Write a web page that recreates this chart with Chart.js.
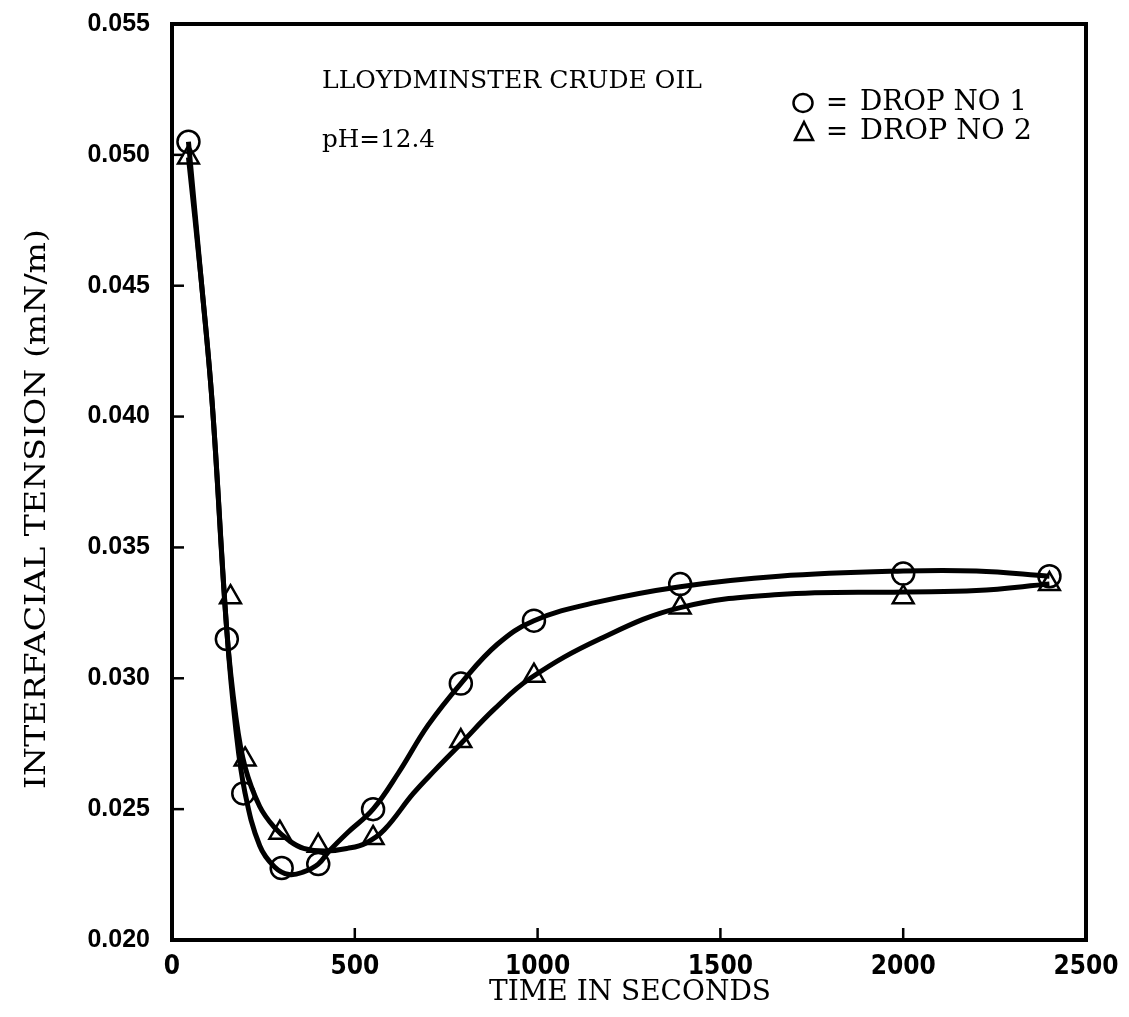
<!DOCTYPE html>
<html>
<head>
<meta charset="utf-8">
<script src="https://cdn.jsdelivr.net/npm/chart.js@4.4.1/dist/chart.umd.min.js"></script>
<style>
  html, body { margin: 0; padding: 0; background: #fff; }
  #wrap { width: 1129px; height: 1017px; }
</style>
</head>
<body>
<div id="wrap"><canvas id="c" width="1129" height="1017"></canvas></div>
<script>
// Measured drops (interfacial tension vs. time)
const timeDrop1    = [45, 150, 195, 300, 400, 550, 790, 990, 1390, 2000, 2400];
const tensionDrop1 = [0.0505, 0.0315, 0.0256, 0.02275, 0.0229, 0.0250, 0.0298, 0.0322, 0.0336, 0.0340, 0.0339];
const timeDrop2    = [45, 160, 200, 295, 400, 550, 790, 990, 1390, 2000, 2400];
const tensionDrop2 = [0.0499, 0.0331, 0.0269, 0.0241, 0.0236, 0.0239, 0.0276, 0.0301, 0.0327, 0.0331, 0.0336];

// Smoothed fit curves through each drop
const fitTime1    = [45, 80, 110, 150, 175, 200, 240, 280, 320, 360, 400, 430, 480, 550, 620, 700, 790, 890, 990, 1160, 1390, 1660, 2000, 2200, 2400];
const fitTension1 = [0.0505, 0.0452, 0.0405, 0.0318, 0.0280, 0.0256, 0.0236, 0.0228, 0.0225, 0.0226, 0.0229, 0.0234, 0.0241, 0.0250, 0.0264, 0.0282, 0.0298, 0.0313, 0.0322, 0.0329, 0.0335, 0.0339, 0.0341, 0.0341, 0.0339];
const fitTime2    = [45, 80, 110, 150, 175, 200, 240, 280, 320, 360, 420, 480, 530, 580, 660, 720, 790, 880, 980, 1170, 1390, 1660, 2000, 2200, 2400];
const fitTension2 = [0.0499, 0.0452, 0.0405, 0.0318, 0.0285, 0.0266, 0.0251, 0.0243, 0.0238, 0.0235, 0.0234, 0.0235, 0.0237, 0.0242, 0.0256, 0.0265, 0.0275, 0.0288, 0.0300, 0.0315, 0.0327, 0.0332, 0.0333, 0.03335, 0.0336];

// Axis ticks
const xTicks = [0, 500, 1000, 1500, 2000, 2500];
const yTicks = [0.020, 0.025, 0.030, 0.035, 0.040, 0.045, 0.050, 0.055];

const pairs = (xs, ys) => xs.map((x, i) => ({ x: x, y: ys[i] }));

const SERIF = '"DejaVu Serif", "Liberation Serif", serif';

// Draw text squeezed/stretched to a given width
function stretchText(ctx, text, x, y, size, width, align) {
  ctx.save();
  ctx.font = size + 'px ' + SERIF;
  ctx.textBaseline = 'middle';
  ctx.textAlign = 'left';
  const w = ctx.measureText(text).width;
  const sx = width / w;
  const left = align === 'center' ? x - width / 2 : x;
  ctx.translate(left, y);
  ctx.scale(sx, 1);
  ctx.fillStyle = '#000';
  ctx.fillText(text, 0, 0);
  ctx.restore();
}

const framePlugin = {
  id: 'frame',
  afterDatasetsDraw(chart) {
    const ctx = chart.ctx;
    const a = chart.chartArea;
    const xs = chart.scales.x, ys = chart.scales.y;
    ctx.save();
    ctx.strokeStyle = '#000';
    ctx.lineWidth = 4;
    ctx.strokeRect(a.left, a.top, a.right - a.left, a.bottom - a.top);
    // inward tick marks
    ctx.lineWidth = 2.5;
    yTicks.slice(1, -1).forEach(v => {
      const py = ys.getPixelForValue(v);
      ctx.beginPath(); ctx.moveTo(a.left, py); ctx.lineTo(a.left + 12, py); ctx.stroke();
    });
    xTicks.slice(1, -1).forEach(v => {
      const px = xs.getPixelForValue(v);
      ctx.beginPath(); ctx.moveTo(px, a.bottom); ctx.lineTo(px, a.bottom - 12); ctx.stroke();
    });
    ctx.restore();
  },
  afterDraw(chart) {
    const ctx = chart.ctx;
    // annotations
    stretchText(ctx, 'LLOYDMINSTER CRUDE OIL', 322, 82, 24, 380, 'left');
    stretchText(ctx, 'pH=12.4', 322, 141, 24, 113, 'left');
    // key
    ctx.save();
    ctx.strokeStyle = '#000';
    ctx.lineWidth = 2.5;
    ctx.beginPath(); ctx.ellipse(803, 103, 9.5, 9, 0, 0, Math.PI * 2); ctx.stroke();
    ctx.beginPath();
    ctx.moveTo(804, 122); ctx.lineTo(813, 140); ctx.lineTo(795, 140); ctx.closePath(); ctx.stroke();
    ctx.restore();
    stretchText(ctx, '=', 826, 104, 27, 22, 'left');
    stretchText(ctx, '=', 826, 133, 27, 22, 'left');
    stretchText(ctx, 'DROP NO 1', 860, 103, 27, 167, 'left');
    stretchText(ctx, 'DROP NO 2', 860, 132, 27, 172, 'left');
    // axis titles
    stretchText(ctx, 'TIME IN SECONDS', 630, 993, 27, 282, 'center');
    ctx.save();
    ctx.translate(38, 509);
    ctx.rotate(-Math.PI / 2);
    stretchText(ctx, 'INTERFACIAL TENSION (mN/m)', 0, 0, 27, 560, 'center');
    ctx.restore();
  }
};

new Chart(document.getElementById('c'), {
  type: 'scatter',
  data: {
    datasets: [
      { data: pairs(fitTime1, fitTension1), showLine: true, borderColor: '#000', borderWidth: 5,
        pointRadius: 0, tension: 0.4, fill: false },
      { data: pairs(fitTime2, fitTension2), showLine: true, borderColor: '#000', borderWidth: 5,
        pointRadius: 0, tension: 0.4, fill: false },
      { data: pairs(timeDrop1, tensionDrop1), showLine: false, pointStyle: 'circle', pointRadius: 11,
        borderColor: '#000', backgroundColor: 'rgba(0,0,0,0)', pointBorderWidth: 2.5 },
      { data: pairs(timeDrop2, tensionDrop2), showLine: false, pointStyle: 'triangle', pointRadius: 12,
        borderColor: '#000', backgroundColor: 'rgba(0,0,0,0)', pointBorderWidth: 2.5 }
    ]
  },
  options: {
    responsive: false,
    animation: false,
    devicePixelRatio: 1,
    layout: { padding: { top: 24, right: 43, left: 0, bottom: 0 } },
    plugins: { legend: { display: false }, tooltip: { enabled: false }, title: { display: false } },
    scales: {
      x: {
        type: 'linear', min: 0, max: 2500,
        afterBuildTicks: s => { s.ticks = xTicks.map(v => ({ value: v })); },
        afterFit: s => { s.height = 77; s.paddingLeft = 0; s.paddingRight = 0; },
        grid: { display: false, drawTicks: false },
        border: { display: false },
        ticks: { padding: 12, color: '#000', maxRotation: 0, callback: v => String(v),
          font: { family: '"Liberation Sans Narrow", "DejaVu Sans Condensed", sans-serif', weight: 'bold', size: 26 } }
      },
      y: {
        type: 'linear', min: 0.020, max: 0.055,
        afterBuildTicks: s => { s.ticks = yTicks.map(v => ({ value: v })); },
        afterFit: s => { s.width = 172; s.paddingTop = 0; s.paddingBottom = 0; },
        grid: { display: false, drawTicks: false },
        border: { display: false },
        ticks: { padding: 22, color: '#000', callback: v => v.toFixed(3),
          font: { family: '"Liberation Sans", Arial, sans-serif', weight: 'bold', size: 25 } }
      }
    }
  },
  plugins: [framePlugin]
});
</script>
</body>
</html>
